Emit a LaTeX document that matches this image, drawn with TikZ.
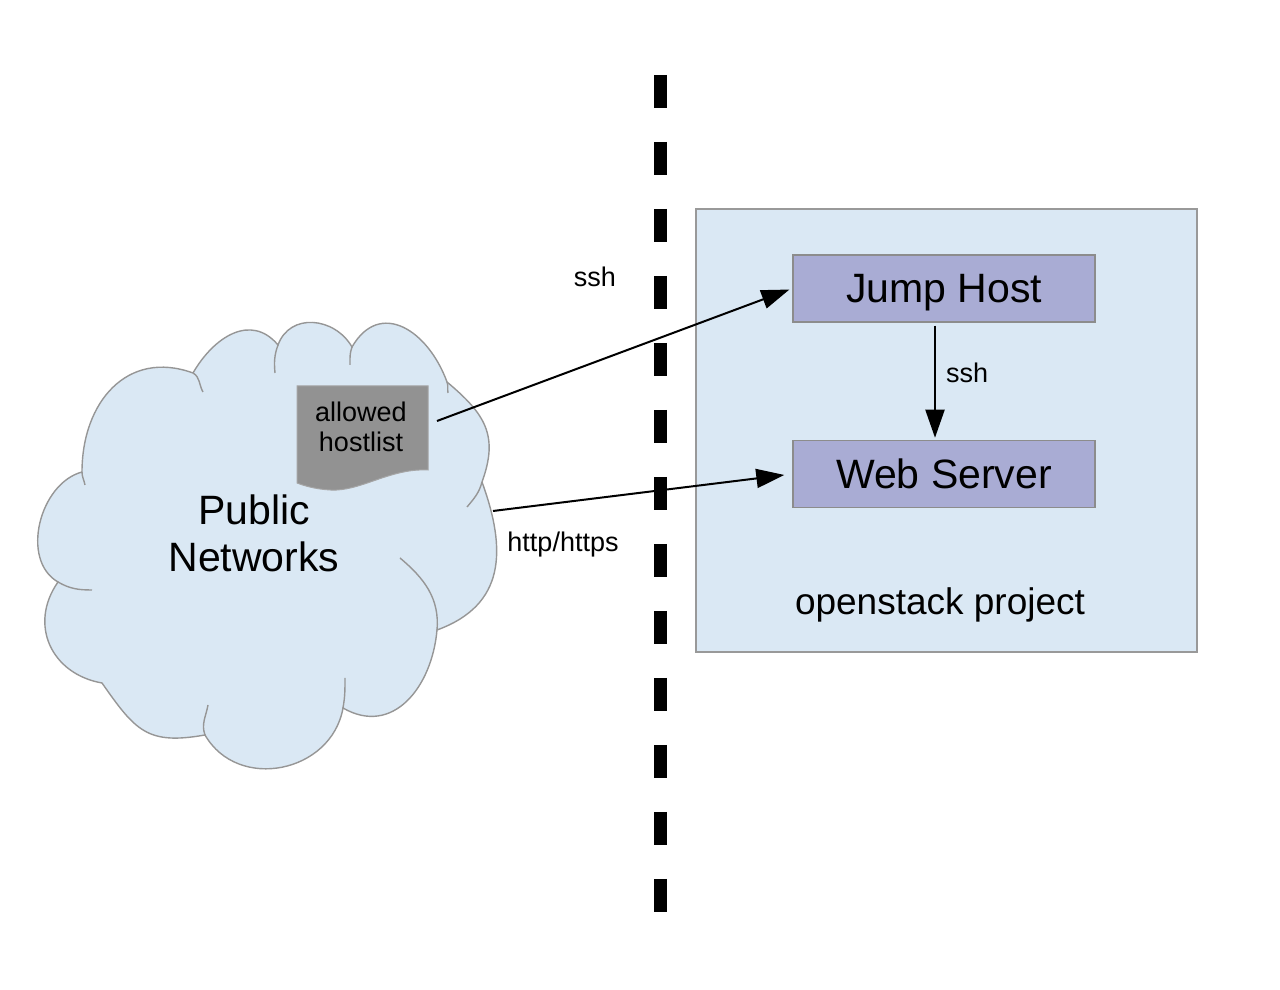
\documentclass[tikz,border=0pt]{standalone}
\usepackage{fontspec}
\setmainfont{Liberation Sans}
\usetikzlibrary{arrows.meta}
\definecolor{paleBlue}{RGB}{218,232,244}
\definecolor{hostPurple}{RGB}{169,172,212}
\definecolor{frameGray}{RGB}{153,153,153}
\definecolor{boxGray}{RGB}{140,140,140}
\definecolor{cloudGray}{RGB}{150,150,150}
\definecolor{docGray}{RGB}{146,146,146}
\definecolor{docEdge}{RGB}{165,165,165}
\tikzstyle{cloudShape}=[draw = cloudGray, fill = paleBlue, line width = 1.4pt]
\tikzstyle{cloudTail}=[draw = cloudGray, line width = 1.4pt]
\tikzstyle{docShape}=[draw = docEdge, fill = docGray, line width = 1pt]
\tikzstyle{areaBox}=[shape = rectangle, draw = frameGray, fill = paleBlue, line width = 1.5pt, inner sep = 0pt, minimum width = 501pt, minimum height = 443pt]
\tikzstyle{hostBox}=[shape = rectangle, draw = boxGray, fill = hostPurple, line width = 1.5pt, minimum width = 302pt, minimum height = 67pt, text depth = 0pt, font = \fontsize{41}{47}\selectfont]
\tikzstyle{smallLabel}=[anchor = base, inner sep = 0pt, font = \fontsize{27}{30}\selectfont]
\tikzstyle{linkArrow}=[-{Triangle[length = 28pt, width = 19pt]}, line width = 2pt]
\tikzstyle{wall}=[line width = 13pt, dash pattern = on 33pt off 34pt]

\begin{document}
\begin{tikzpicture}[x = 1pt, y = 1pt]
\useasboundingbox (0,0) rectangle (1280,990);
\coordinate (wallTop) at (660,915);
\coordinate (wallBottom) at (660,75);
\draw[wall] (wallTop) -- (wallBottom);
\filldraw[cloudShape] (82,518) to[out = 195, in = 150] (58,408)
  to[out = 235, in = 170, looseness = 1.2] (102,307)
  to[out = -55, in = 190, looseness = 1.3] (205,255)
  to[out = -60, in = 260, looseness = 1.2] (343,282)
  to[out = -30, in = 265, looseness = 1.2] (437,360)
  to[out = 20, in = 290, looseness = 1.2] (482,508)
  to[out = 70, in = 320, looseness = 1.2] (447,608)
  to[out = 110, in = 60, looseness = 1.4] (352,643)
  to[out = 120, in = 70, looseness = 1.2] (278,645)
  to[out = 130, in = 60, looseness = 1.2] (193,617)
  to[out = 160, in = 90, looseness = 1.2] (82,518) -- cycle;
\draw[cloudTail] (82,518) to[out = -90, in = 100] (85,505);
\draw[cloudTail] (193,617) to[out = -30, in = 120] (203,598);
\draw[cloudTail] (278,645) to[out = 250, in = 95] (275,617);
\draw[cloudTail] (352,643) to[out = 250, in = 90] (350,625);
\draw[cloudTail] (447,608) to[out = 290, in = 100] (448,597);
\draw[cloudTail] (482,508) to[out = 255, in = 50] (467,483);
\draw[cloudTail] (437,360) to[out = 85, in = -40] (400,432);
\draw[cloudTail] (343,282) to[out = 80, in = 270] (345,312);
\draw[cloudTail] (205,255) to[out = 110, in = 260] (208,285);
\draw[cloudTail] (58,408) to[out = -30, in = 180] (92,400);
\node[align = center, font = \fontsize{41}{47}\selectfont] (public) at (254,456.5) {Public\\Networks};
\filldraw[docShape] (297,507) -- (297,604) -- (428,604) -- (428,520)
  .. controls (390,522) and (360,498) .. (330,500)
  .. controls (315,501) and (305,504) .. (297,507) -- cycle;
\node[align = center, font = \fontsize{27}{30}\selectfont] (hostlist) at (361,563.4) {allowed\\hostlist};
\node[areaBox] (project) at (946.5,559.5) {};
\node[hostBox] (jump) at (944,701.5) {Jump Host};
\node[hostBox] (web) at (944,516) {Web Server};
\node[anchor = base, font = \fontsize{37}{42}\selectfont] (projName) at (940,375) {openstack project};
\coordinate (sshStart) at (437,569);
\coordinate (httpStart) at (493,479);
\draw[linkArrow, shorten >= 3pt] (sshStart) -- (jump.west);
\draw[linkArrow, shorten >= 8pt] (httpStart) -- (web.west);
\draw[linkArrow, shorten <= 3pt, shorten >= 2pt] ([xshift = -9pt]jump.south) -- ([xshift = -9pt]web.north);
\node[smallLabel] (sshTop) at (595,703) {ssh};
\node[smallLabel] (sshJump) at (967,607) {ssh};
\node[smallLabel] (httpLabel) at (563,438) {http/https};
\end{tikzpicture}
\end{document}
